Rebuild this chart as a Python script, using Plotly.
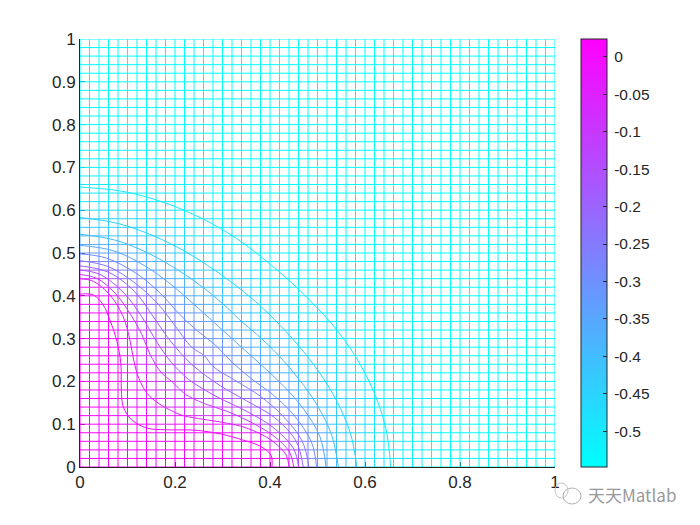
import numpy as np
import plotly.graph_objects as go

levels = [0, -0.05, -0.1, -0.15, -0.2, -0.25, -0.3, -0.35, -0.4, -0.45, -0.5]
half_x = [
 [0,.028,.049,.063,.077,.086,.087,.091,.109],
 [0,.028,.063,.091,.105,.113,.124,.146],
 [0,.035,.074,.105,.13,.148,.17,.195],
 [0,.042,.093,.13,.163,.192,.225],
 [0,.06,.115,.155,.19,.235],
 [0,.06,.118,.165,.2,.235,.262],
 [0,.056,.119,.169,.207,.245,.285],
 [0,.071,.135,.19,.238,.283,.31],
 [0,.074,.143,.205,.261,.311,.34],
 [0,.08,.155,.224,.286,.344,.378],
 [0,.09,.177,.258,.332,.399,.438],
]
half_y = [
 [.404,.402,.3785,.343,.297,.242,.18,.141,.11],
 [.44,.434,.402,.351,.297,.25,.207,.166],
 [.45,.441,.406,.359,.31,.262,.222,.198],
 [.46,.45,.406,.351,.29,.245,.208],
 [.47,.455,.41,.35,.295,.24],
 [.482,.468,.428,.38,.33,.28,.26],
 [.498,.488,.452,.406,.36,.32,.285],
 [.518,.505,.471,.428,.382,.337,.31],
 [.544,.53,.5,.461,.418,.371,.34],
 [.583,.569,.54,.502,.458,.41,.378],
 [.654,.644,.618,.58,.532,.475,.438],
]
c_min, c_max = -0.548, 0.024
cb_ticks = [0, -0.05, -0.1, -0.15, -0.2, -0.25, -0.3, -0.35, -0.4, -0.45, -0.5]
cb_text = ["0", "-0.05", "-0.1", "-0.15", "-0.2", "-0.25", "-0.3", "-0.35", "-0.4", "-0.45", "-0.5"]
x_ticks = [0, 0.2, 0.4, 0.6, 0.8, 1]
y_ticks = [0, 0.1, 0.2, 0.3, 0.4, 0.5, 0.6, 0.7, 0.8, 0.9, 1]
n_cells = 50

c_x = [hx + hy[-2::-1] for hx, hy in zip(half_x, half_y)]
c_y = [hy + hx[-2::-1] for hx, hy in zip(half_x, half_y)]

def cool(v):
    t = np.clip((v - c_min) / (c_max - c_min), 0, 1)
    return f"rgb({round(255*t)},{round(255*(1-t))},255)"

polar = []
for xs, ys in zip(c_x, c_y):
    xa, ya = np.array(xs), np.array(ys)
    th = np.arctan2(ya, xa)
    r = np.hypot(xa, ya)
    o = np.argsort(th)
    polar.append((th[o], r[o]))

def value(x, y):
    th = np.arctan2(y, x)
    r = np.hypot(x, y)
    rs = [0.0] + [float(np.interp(th, p[0], p[1])) for p in polar] + [0.80]
    vs = [c_max] + levels + [c_min]
    return float(np.interp(r, rs, vs))

grid = np.linspace(0, 1, n_cells + 1)
bins = 64
bx = [[] for _ in range(bins)]
by = [[] for _ in range(bins)]
def add(x0, y0, x1, y1):
    v = value((x0 + x1) / 2, (y0 + y1) / 2)
    t = (v - c_min) / (c_max - c_min)
    k = min(bins - 1, max(0, int(t * bins)))
    bx[k] += [x0, x1, None]
    by[k] += [y0, y1, None]
for i, g in enumerate(grid):
    for j in range(n_cells):
        add(g, grid[j], g, grid[j + 1])
        add(grid[j], g, grid[j + 1], g)

fig = go.Figure()
for k in range(bins):
    if bx[k]:
        fig.add_trace(go.Scatter(x=bx[k], y=by[k], mode="lines", hoverinfo="skip", showlegend=False,
                                 line=dict(color=cool(c_min + (k + .5) / bins * (c_max - c_min)), width=1)))
for xs, ys, lv in zip(c_x, c_y, levels):
    fig.add_trace(go.Scatter(x=xs, y=ys, mode="lines", showlegend=False,
                             line=dict(color=cool(lv), width=1, shape="spline", smoothing=1.0)))

fig.add_trace(go.Scatter(x=[0, 0], y=[0, 0], mode="markers", showlegend=False, hoverinfo="skip",
    marker=dict(size=1, opacity=0, color=[c_min, c_max], cmin=c_min, cmax=c_max,
        colorscale=[[0, "rgb(0,255,255)"], [1, "rgb(255,0,255)"]], showscale=True,
        colorbar=dict(x=(581 - 80) / 475, xanchor="left", xref="paper", y=0.5, yanchor="middle", len=1, lenmode="fraction",
                      thickness=26, thicknessmode="pixels", xpad=0, ypad=0,
                      outlinecolor="#262626", outlinewidth=1,
                      tickvals=cb_ticks, ticktext=["\u2009" + t for t in cb_text], ticks="inside", ticklen=4, tickcolor="#262626", tickwidth=1,
                      tickfont=dict(family="Liberation Sans", size=15.5, color="#262626"), ticklabelposition="outside"))))

axis = dict(range=[0, 1], showgrid=False, zeroline=False, showline=True, linecolor="#262626", linewidth=1,
            ticks="inside", ticklen=5, tickcolor="#262626", tickwidth=1, layer="below traces",
            tickfont=dict(family="Liberation Sans", size=17, color="#262626"))
fig.update_layout(
    width=692, height=517, margin=dict(l=72, r=145, t=31, b=58, autoexpand=False),
    paper_bgcolor="white", plot_bgcolor="white", showlegend=False,
    xaxis=dict(axis, tickvals=x_ticks, ticktext=["0", "0.2", "0.4", "0.6", "0.8", "1"]),
    yaxis=dict(axis, tickvals=y_ticks, ticktext=["0", "0.1", "0.2", "0.3", "0.4", "0.5", "0.6", "0.7", "0.8", "0.9", "1"]),
    annotations=[dict(text="天天Matlab", xref="paper", yref="paper", x=(586 - 80) / 475, y=(467 - 494) / 428,
                      xanchor="left", yanchor="middle", showarrow=False,
                      font=dict(family="Noto Sans CJK SC", size=17, color="#999999"))],
    shapes=[dict(type="circle", xref="paper", yref="paper", x0=(563 - 80) / 475, x1=(581 - 80) / 475,
                 y0=(467 - 504) / 428, y1=(467 - 488) / 428, line=dict(color="#b0b0b0", width=1)),
            dict(type="circle", xref="paper", yref="paper", x0=(555 - 80) / 475, x1=(568 - 80) / 475,
                 y0=(467 - 498) / 428, y1=(467 - 483) / 428, line=dict(color="#c4c4c4", width=1))],
)
fig.write_html("out.html")
